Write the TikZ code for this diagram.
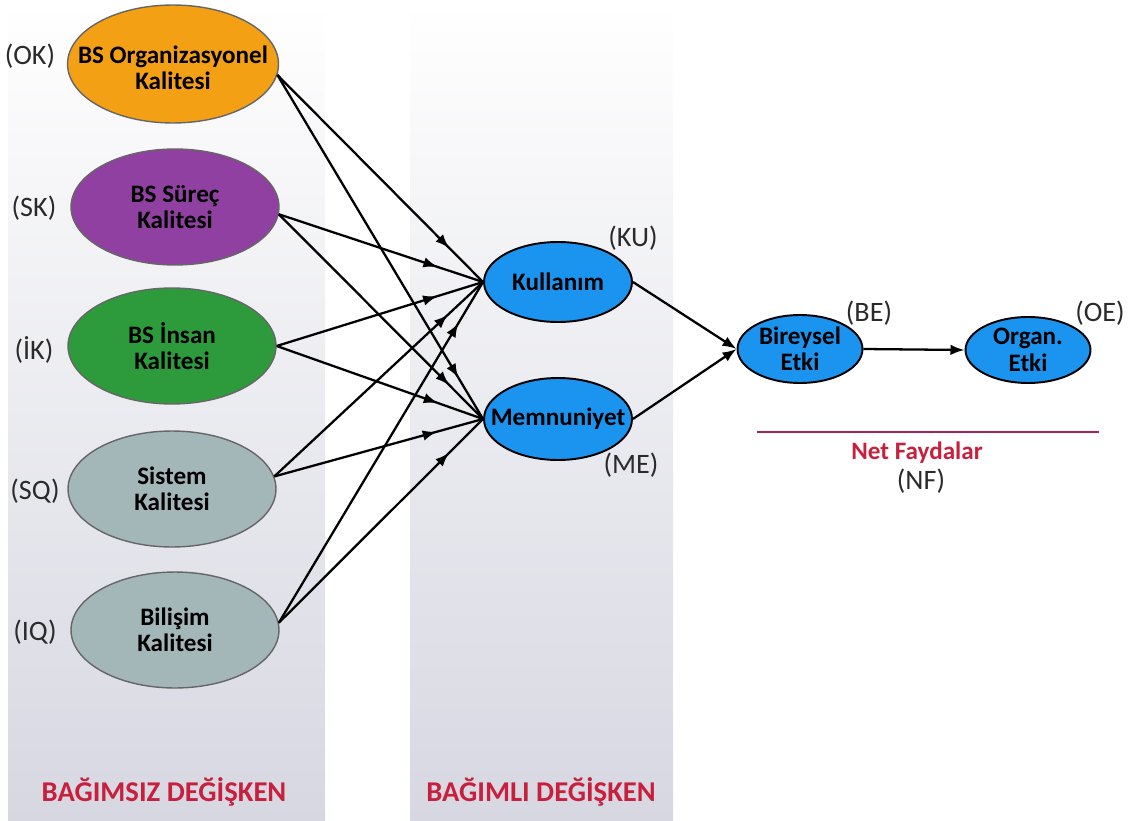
\documentclass[tikz,border=0pt]{standalone}
\usepackage{fontspec}
\setmainfont{Carlito}
\usetikzlibrary{shapes.geometric,arrows.meta,decorations.markings}

\definecolor{panelbot}{HTML}{D6D7E1}
\definecolor{okfill}{HTML}{F4A015}
\definecolor{skfill}{HTML}{9040A0}
\definecolor{ikfill}{HTML}{2D9B3C}
\definecolor{qfill}{HTML}{A3B6B8}
\definecolor{nodeblue}{HTML}{1B94F0}
\definecolor{headred}{HTML}{C8203C}
\definecolor{nfline}{HTML}{A8225A}
\definecolor{tagtext}{HTML}{2A2A2A}

\begin{document}
\begin{tikzpicture}[x=0.02cm,y=-0.02cm,
  lell/.style={ellipse, draw=black!60, line width=0.8pt, inner sep=0pt,
    minimum width=4.16cm, minimum height=2.32cm},
  bell/.style={ellipse, draw=black, line width=1.1pt, fill=nodeblue, inner sep=0pt},
  ntext/.style={font=\fontsize{14.3}{15}\selectfont\bfseries, align=center, text=black},
  tag/.style={font=\fontsize{16}{18}\selectfont, text=tagtext},
  headlbl/.style={font=\fontsize{16.3}{18}\selectfont\bfseries, text=headred},
  feed/.style={line width=1.3pt,
    decoration={markings, mark=at position -0.96cm with {\arrow{Latex[length=8pt,width=6pt]}}},
    postaction={decorate}},
  conn/.style={line width=1.3pt, -{Latex[length=8pt,width=6pt]}}
]
\useasboundingbox (0,0) rectangle (1142,821);

% background panels
\shade[top color=white, bottom color=panelbot] (8,0) rectangle (325,821);
\shade[top color=white, bottom color=panelbot] (410,0) rectangle (673,821);

% independent variables
\node[lell, fill=okfill, minimum width=4.22cm, minimum height=2.36cm] (ok) at (173,64) {};
\node[lell, fill=skfill] (sk) at (175,207) {};
\node[lell, fill=ikfill] (ik) at (172,346) {};
\node[lell, fill=qfill] (sq) at (172,489) {};
\node[lell, fill=qfill] (iq) at (175,630) {};

\node[ntext] (okt) at (173,68) {BS Organizasyonel\\Kalitesi};
\node[ntext] (skt) at (sk) {BS Süreç\\Kalitesi};
\node[ntext] (ikt) at (ik) {BS İnsan\\Kalitesi};
\node[ntext] (sqt) at (sq) {Sistem\\Kalitesi};
\node[ntext] (iqt) at (iq) {Bilişim\\Kalitesi};

\node[tag] (okl) at (30,56) {(OK)};
\node[tag] (skl) at (34,208) {(SK)};
\node[tag] (ikl) at (34,350) {(İK)};
\node[tag] (sql) at (35,491) {(SQ)};
\node[tag] (iql) at (35,632) {(IQ)};

% dependent variables
\node[bell, minimum width=2.96cm, minimum height=1.6cm] (ku) at (558,282) {};
\node[bell, minimum width=2.96cm, minimum height=1.64cm] (me) at (558,419) {};
\node[ntext] (kut) at (ku) {Kullanım};
\node[ntext] (met) at (me) {Memnuniyet};
\node[tag] (kul) at (633,238) {(KU)};
\node[tag] (mel) at (631,465) {(ME)};

% net benefits
\node[bell, minimum width=2.5cm, minimum height=1.36cm] (be) at (800,349) {};
\node[bell, minimum width=2.5cm, minimum height=1.32cm] (oe) at (1028,350) {};
\node[ntext] (bet) at (be) {Bireysel\\Etki};
\node[ntext] (oet) at (oe) {Organ.\\Etki};
\node[tag] (bel) at (869,313) {(BE)};
\node[tag] (oel) at (1100,313) {(OE)};

\coordinate (nfa) at (757,432);
\coordinate (nfb) at (1099,432);
\draw[nfline, line width=1.4pt] (nfa) -- (nfb);
\node[ntext, text=headred] (nft) at (917,453) {Net Faydalar};
\node[tag] (nfl) at (921,481) {(NF)};

% column headings
\node[headlbl] (h1) at (164,792) {BAĞIMSIZ DEĞİŞKEN};
\node[headlbl] (h2) at (541,792) {BAĞIMLI DEĞİŞKEN};

% paths from independent to dependent variables
\foreach \src/\ang in {ok/-6, sk/-4, ik/0, sq/7, iq/4} {
  \draw[feed] (\src.\ang) -- (ku.west);
  \draw[feed] (\src.\ang) -- (me.west);
}

% paths to the impacts
\draw[conn] (ku.east) -- (be.west);
\draw[conn] (me.east) -- (be.west);
\draw[conn] (be.east) -- (oe.west);
\end{tikzpicture}
\end{document}
